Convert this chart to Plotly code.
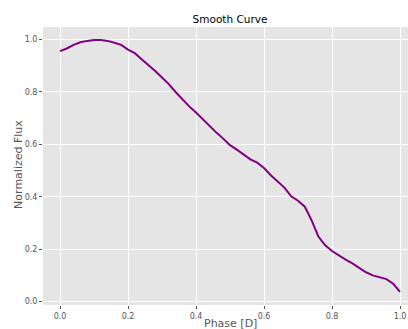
import plotly.graph_objects as go

# Phase-folded light curve, normalized flux
phase = [0.00, 0.02, 0.04, 0.06, 0.08, 0.10, 0.12, 0.14, 0.16, 0.18,
         0.20, 0.22, 0.24, 0.26, 0.28, 0.30, 0.32, 0.34, 0.36, 0.38,
         0.40, 0.42, 0.44, 0.46, 0.48, 0.50, 0.52, 0.54, 0.56, 0.58,
         0.60, 0.62, 0.64, 0.66, 0.68, 0.70, 0.72, 0.74, 0.76, 0.78,
         0.80, 0.82, 0.84, 0.86, 0.88, 0.90, 0.92, 0.94, 0.96, 0.98, 1.00]
flux = [0.956, 0.966, 0.980, 0.990, 0.995, 0.998, 0.998, 0.995, 0.988, 0.980,
        0.962, 0.948, 0.925, 0.903, 0.880, 0.855, 0.830, 0.800, 0.772, 0.745,
        0.722, 0.695, 0.670, 0.645, 0.622, 0.597, 0.580, 0.562, 0.543, 0.530,
        0.510, 0.482, 0.460, 0.435, 0.402, 0.385, 0.362, 0.310, 0.248, 0.215,
        0.193, 0.175, 0.160, 0.146, 0.128, 0.112, 0.100, 0.092, 0.086, 0.068, 0.037]

x_ticks = [0.0, 0.2, 0.4, 0.6, 0.8, 1.0]
y_ticks = [0.0, 0.2, 0.4, 0.6, 0.8, 1.0]

FONT = "DejaVu Sans"
GREY = "#555555"

fig = go.Figure(
    go.Scatter(x=phase, y=flux, mode="lines",
               line=dict(color="#800080", width=2), showlegend=False)
)

axis_common = dict(
    showgrid=True, gridcolor="white", gridwidth=1, zeroline=False,
    ticks="outside", ticklen=3, tickcolor=GREY, tickwidth=1,
    tickfont=dict(family=FONT, size=8, color=GREY),
    showline=False,
)

fig.update_layout(
    width=408, height=329,
    margin=dict(l=43, r=0, t=27, b=24),
    paper_bgcolor="white", plot_bgcolor="#E5E5E5",
    title=dict(text="Smooth Curve", x=230 / 408, xanchor="center", xref="container",
               y=1 - 19 / 329, yanchor="middle", yref="container",
               font=dict(family=FONT, size=10.5, color="black")),
    xaxis=dict(range=[-0.05, 1.0235], tickvals=x_ticks,
               ticktext=[f"{v:.1f}" for v in x_ticks], **axis_common),
    yaxis=dict(range=[-0.013, 1.048], tickvals=y_ticks,
               ticktext=[f"{v:.1f}" for v in y_ticks], **axis_common),
)

# Axis titles placed as annotations for tight control of spacing
fig.add_annotation(text="Phase [D]", xref="paper", yref="paper",
                   x=(230 - 43) / 365, y=0, xanchor="center", yanchor="middle",
                   yshift=-18, showarrow=False,
                   font=dict(family=FONT, size=11, color=GREY))
fig.add_annotation(text="Normalized Flux", xref="paper", yref="paper",
                   x=(19 - 43) / 365, y=0.504, xanchor="center", yanchor="middle",
                   textangle=-90, showarrow=False,
                   font=dict(family=FONT, size=11, color=GREY))

fig.write_html("out.html")
